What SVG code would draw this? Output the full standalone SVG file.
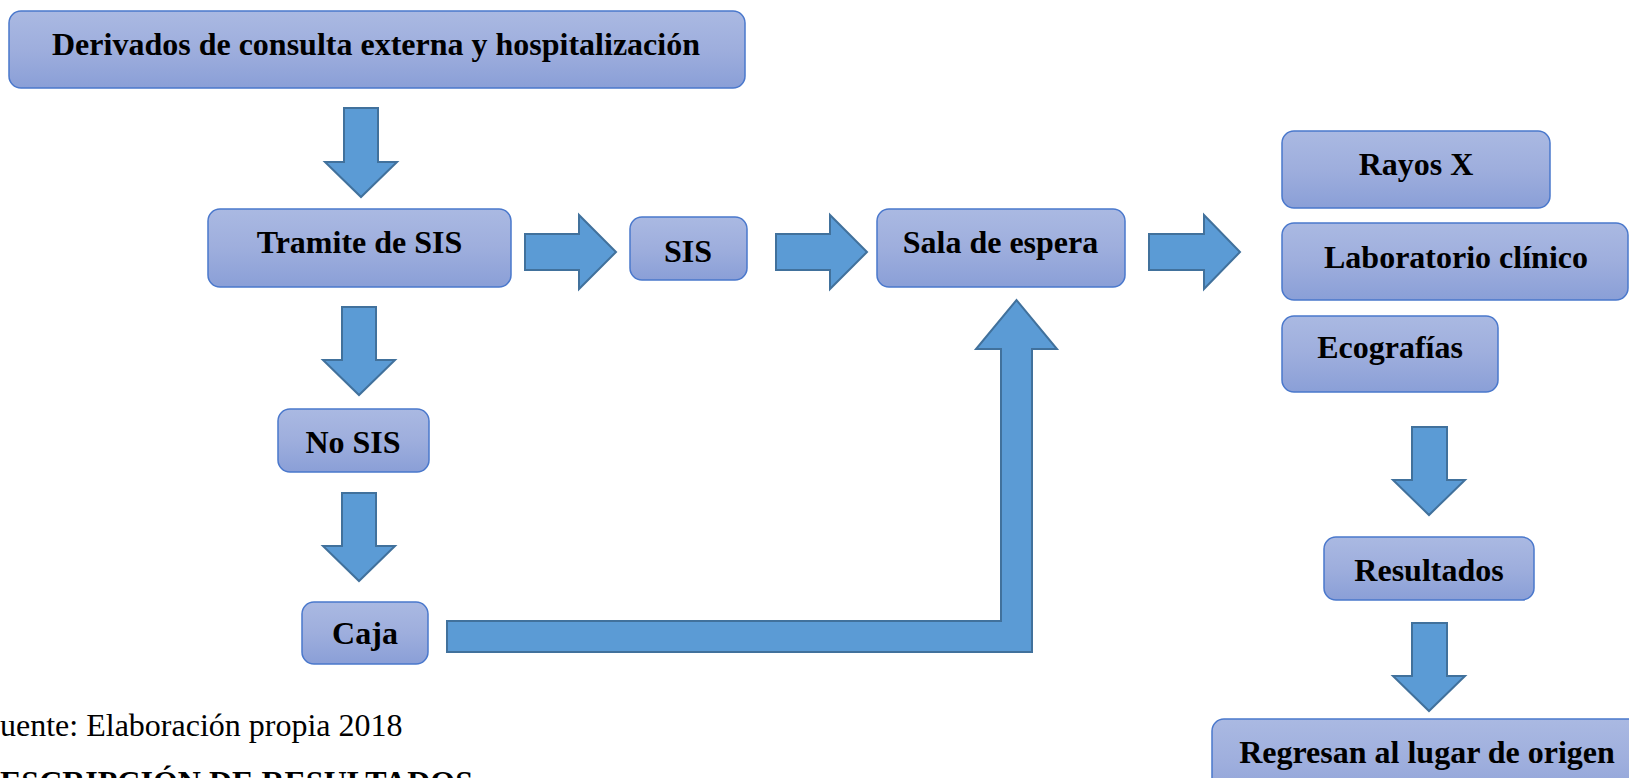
<svg xmlns="http://www.w3.org/2000/svg" width="1629" height="778" viewBox="0 0 1629 778">
<defs>
<linearGradient id="boxg" x1="0" y1="0" x2="0" y2="1">
<stop offset="0" stop-color="#AAB9E2"/>
<stop offset="0.5" stop-color="#9EAEDD"/>
<stop offset="1" stop-color="#8A9FD7"/>
</linearGradient>
<style>
.box{fill:url(#boxg);stroke:#4A78CC;stroke-width:1.5}
.lbl{font-family:"Liberation Serif","Times New Roman",serif;font-weight:bold;font-size:32px;fill:#000;text-anchor:middle}
.arr{fill:#5B9BD5;stroke:#41719C;stroke-width:2;stroke-linejoin:miter}
.foot{font-family:"Liberation Serif","Times New Roman",serif;font-size:32px;fill:#000}
</style>
</defs>
<rect width="1629" height="778" fill="#fff"/>
<g id="connectors">
<path class="arr" d="M344 108 H378 V162 H397 L361 197 L325 162 H344 Z"/>
<path class="arr" d="M342 307 H376 V360 H395 L359 395 L323 360 H342 Z"/>
<path class="arr" d="M342 493 H376 V546 H395 L359 581 L323 546 H342 Z"/>
<path class="arr" d="M525 234 H579 V215 L616 252 L579 289 V270 H525 Z"/>
<path class="arr" d="M776 234 H830 V215 L867 252 L830 289 V270 H776 Z"/>
<path class="arr" d="M1149 234 H1204 V215 L1240 252 L1204 289 V270 H1149 Z"/>
<path class="arr" d="M447 621 H1001 V349 H976 L1016.5 300 L1057 349 H1032 V652 H447 Z"/>
<path class="arr" d="M1412 427 H1447 V480 H1465 L1429 515 L1393 480 H1412 Z"/>
<path class="arr" d="M1412 623 H1447 V676 H1465 L1429 711 L1393 676 H1412 Z"/>
</g>
<g id="derivados"><rect class="box" x="9" y="11" width="736" height="77" rx="12"/><text class="lbl" x="376" y="55">Derivados de consulta externa y hospitalización</text></g>
<g id="tramite"><rect class="box" x="208" y="209" width="303" height="78" rx="12"/><text class="lbl" x="359.5" y="253">Tramite de SIS</text></g>
<g id="sis"><rect class="box" x="630" y="217" width="117" height="63" rx="12"/><text class="lbl" x="688" y="262">SIS</text></g>
<g id="sala"><rect class="box" x="877" y="209" width="248" height="78" rx="12"/><text class="lbl" x="1000.5" y="253">Sala de espera</text></g>
<g id="rayos"><rect class="box" x="1282" y="131" width="268" height="77" rx="12"/><text class="lbl" x="1416" y="175">Rayos X</text></g>
<g id="laboratorio"><rect class="box" x="1282" y="223" width="346" height="77" rx="12"/><text class="lbl" x="1456" y="268">Laboratorio clínico</text></g>
<g id="ecografias"><rect class="box" x="1282" y="316" width="216" height="76" rx="12"/><text class="lbl" x="1390" y="358">Ecografías</text></g>
<g id="nosis"><rect class="box" x="278" y="409" width="151" height="63" rx="12"/><text class="lbl" x="353" y="453">No SIS</text></g>
<g id="caja"><rect class="box" x="302" y="602" width="126" height="62" rx="12"/><text class="lbl" x="365" y="644">Caja</text></g>
<g id="resultados"><rect class="box" x="1324" y="537" width="210" height="63" rx="12"/><text class="lbl" x="1429" y="581">Resultados</text></g>
<g id="regresan"><rect class="box" x="1212" y="719" width="440" height="90" rx="12"/><text class="lbl" x="1427" y="763">Regresan al lugar de origen</text></g>
<g id="footer">
<text class="foot" x="0" y="736">uente: Elaboración propia 2018</text>
<text class="foot" x="0" y="793" font-weight="bold">ESCRIPCIÓN DE RESULTADOS</text>
</g>
</svg>
